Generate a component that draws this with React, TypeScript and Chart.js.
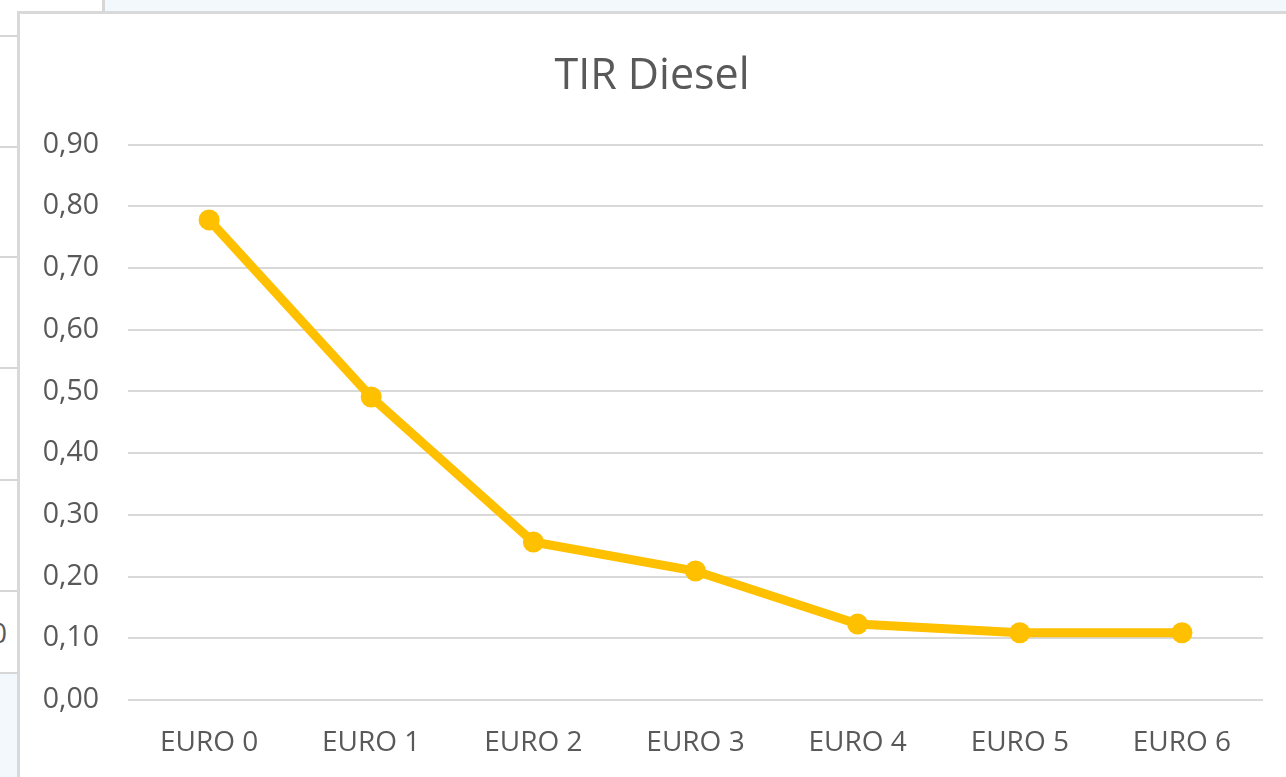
import React, { useEffect, useRef } from "react";
import { Chart, registerables } from "chart.js";

Chart.register(...registerables);

const chartTitle = "TIR Diesel";
const categories = ["EURO 0", "EURO 1", "EURO 2", "EURO 3", "EURO 4", "EURO 5", "EURO 6"];
const tirDiesel = [0.778, 0.491, 0.256, 0.209, 0.123, 0.109, 0.109];
const yMin = 0;
const yMax = 0.9;
const yStep = 0.1;

const FONT = "'Open Sans', 'Noto Sans', sans-serif";
const TEXT = "#595959";
const GRID = "#d9d9d9";
const LINE = "#FFC000";

export default function App() {
  const canvasRef = useRef<HTMLCanvasElement | null>(null);

  useEffect(() => {
    const prevMargin = document.body.style.margin;
    document.body.style.margin = "0";
    const canvas = canvasRef.current;
    if (!canvas) return;
    const chart = new Chart(canvas, {
      type: "line",
      data: {
        labels: categories,
        datasets: [
          {
            label: chartTitle,
            data: tirDiesel,
            borderColor: LINE,
            backgroundColor: LINE,
            borderWidth: 9,
            pointRadius: 10.5,
            pointHoverRadius: 10.5,
            pointBorderWidth: 0,
            pointBackgroundColor: LINE,
            tension: 0,
            fill: false,
          },
        ],
      },
      options: {
        animation: false,
        responsive: false,
        maintainAspectRatio: false,
        layout: { padding: { left: 21, right: 23, top: 0, bottom: 0 } },
        plugins: {
          legend: { display: false },
          tooltip: { enabled: false },
          title: {
            display: true,
            text: chartTitle,
            color: TEXT,
            font: { family: FONT, size: 43, weight: "normal", lineHeight: 1.2 },
            padding: { top: 37, bottom: 42 },
          },
        },
        scales: {
          x: {
            offset: true,
            grid: { display: false, drawTicks: false },
            border: { display: false },
            ticks: {
              color: TEXT,
              font: { family: FONT, size: 28 },
              padding: 26,
              maxRotation: 0,
              autoSkip: false,
            },
            afterFit: (scale: any) => {
              scale.height = 77;
            },
          },
          y: {
            min: yMin,
            max: yMax,
            grid: { color: GRID, lineWidth: 2, drawTicks: false },
            border: { display: false },
            ticks: {
              stepSize: yStep,
              color: TEXT,
              font: { family: FONT, size: 28.5 },
              padding: 29,
              callback: (v: any) => Number(v).toFixed(2).replace(".", ","),
            },
            afterFit: (scale: any) => {
              scale.width = 87;
            },
          },
        },
      },
    });
    return () => {
      chart.destroy();
      document.body.style.margin = prevMargin;
    };
  }, []);

  const hLines = [36, 147, 257, 368, 480, 591];

  return (
    <div style={{ position: "fixed", left: 0, top: 0, width: 1286, height: 777, overflow: "hidden", background: "#ffffff" }}>
      {/* spreadsheet background */}
      <div style={{ position: "absolute", left: 105, top: 0, width: 1181, height: 11, background: "#f3f8fd" }} />
      <div style={{ position: "absolute", left: 102, top: 0, width: 3, height: 11, background: "#d6d6d6" }} />
      {hLines.map((y) => (
        <div key={y} style={{ position: "absolute", left: 0, top: y - 1, width: 17, height: 2, background: "#d6d6d6" }} />
      ))}
      <div style={{ position: "absolute", left: 0, top: 672, width: 17, height: 2, background: "#d6d6d6" }} />
      <div style={{ position: "absolute", left: 0, top: 674, width: 17, height: 103, background: "#f3f8fd" }} />
      <div style={{ position: "absolute", left: -9, top: 614, fontFamily: FONT, fontSize: 28, color: TEXT, lineHeight: "36px" }}>0</div>
      {/* chart frame */}
      <div
        style={{
          position: "absolute",
          left: 17,
          top: 11,
          width: 1300,
          height: 800,
          border: "3px solid #d9d9d9",
          background: "#ffffff",
          boxSizing: "border-box",
        }}
      />
      <canvas
        ref={canvasRef}
        width={1266}
        height={763}
        style={{ position: "absolute", left: 20, top: 14, width: 1266, height: 763 }}
      />
    </div>
  );
}
